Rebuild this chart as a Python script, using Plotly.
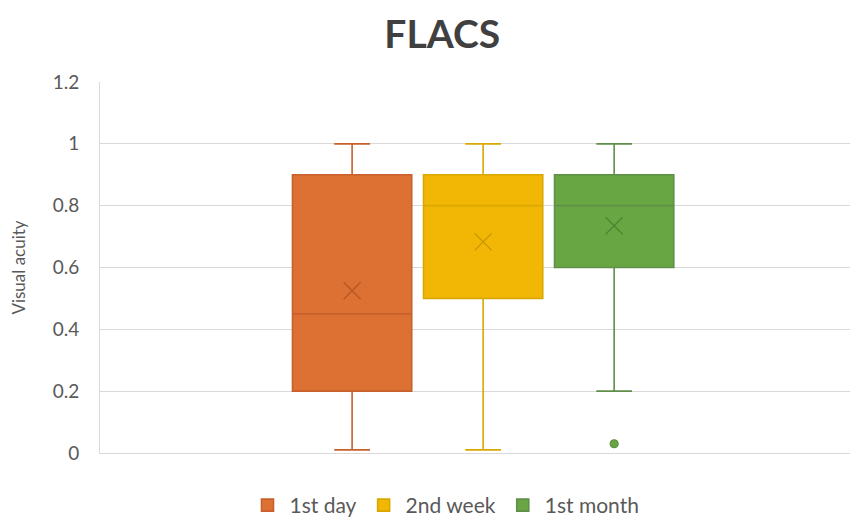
import plotly.graph_objects as go

# Visual acuity summary statistics per follow-up visit
series = ["1st day", "2nd week", "1st month"]
q1 = [0.2, 0.5, 0.6]
median = [0.45, 0.8, 0.8]
q3 = [0.9, 0.9, 0.9]
lower_whisker = [0.01, 0.01, 0.2]
upper_whisker = [1.0, 1.0, 1.0]
means = [0.525, 0.683, 0.735]
outliers = [[], [], [0.03]]

fill_colors = ["#DD7033", "#F2B705", "#67A642"]
line_colors = ["#C7602C", "#D9A800", "#5F8F48"]
mean_colors = ["rgba(150,70,25,0.55)", "rgba(160,120,0,0.55)", "rgba(60,110,40,0.6)"]

fig = go.Figure()

for i, name in enumerate(series):
    fig.add_trace(go.Box(
        name=name,
        x=[name],
        q1=[q1[i]], median=[median[i]], q3=[q3[i]],
        lowerfence=[lower_whisker[i]], upperfence=[upper_whisker[i]],
        fillcolor=fill_colors[i],
        line=dict(color=line_colors[i], width=1.6),
        width=0.91,
        whiskerwidth=0.3,
        boxpoints=False,
        legendgroup=name,
        hoverinfo="skip",
    ))
    # mean marker
    fig.add_trace(go.Scatter(
        x=[name], y=[means[i]], mode="markers",
        marker=dict(symbol="x-thin-open", size=17, color=mean_colors[i],
                    line=dict(color=mean_colors[i], width=1.3)),
        showlegend=False, legendgroup=name, hoverinfo="skip",
    ))
    if outliers[i]:
        fig.add_trace(go.Scatter(
            x=[name] * len(outliers[i]), y=outliers[i], mode="markers",
            marker=dict(symbol="circle", size=8, color=fill_colors[i],
                        line=dict(color=line_colors[i], width=1.2)),
            showlegend=False, legendgroup=name, hoverinfo="skip",
        ))

fig.update_layout(
    width=862, height=526,
    margin=dict(l=100, r=12, t=82, b=73),
    paper_bgcolor="white", plot_bgcolor="white",
    font=dict(family="Lato, 'Open Sans', sans-serif", color="#595959"),
    title=dict(text="<b>FLACS</b>", x=0.513, xanchor="center", y=0.935, yanchor="middle",
               font=dict(size=39, color="#404040")),
    boxmode="overlay",
    showlegend=True,
    legend=dict(orientation="h", x=0.46, xanchor="center",
                yref="container", y=0.078, yanchor="top",
                font=dict(size=21, color="#595959"), itemwidth=34,
                bgcolor="rgba(0,0,0,0)"),
)

fig.update_xaxes(
    type="category", categoryorder="array", categoryarray=series,
    range=[-1.924, 3.80], showticklabels=False, showgrid=False, zeroline=False,
    showline=True, linecolor="#D9D9D9", linewidth=1, ticks="",
)
fig.update_yaxes(
    range=[0, 1.2], dtick=0.2, tick0=0,
    showgrid=True, gridcolor="#D9D9D9", gridwidth=1, zeroline=False,
    showline=True, linecolor="#D9D9D9", linewidth=1,
    tickfont=dict(size=19, color="#595959"), ticklabelstandoff=16,
    title=dict(text="Visual acuity", font=dict(size=17, color="#595959"), standoff=22),
)

fig.write_html("out.html")
